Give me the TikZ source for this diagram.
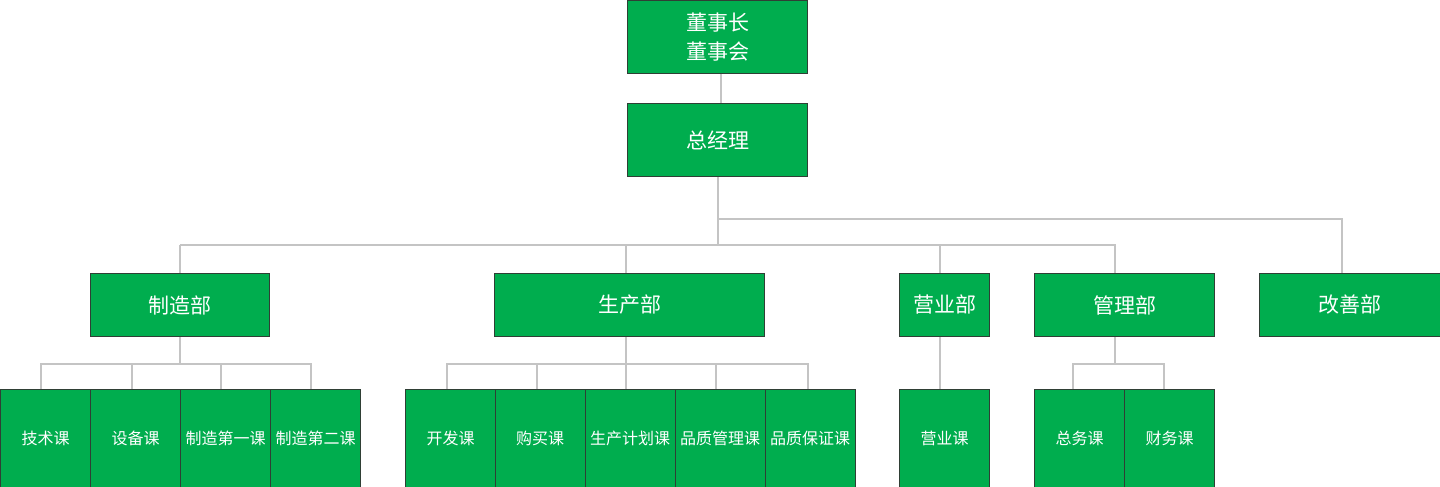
\documentclass[tikz,border=0pt]{standalone}
\usepackage{fontspec}
\newfontfamily\cjk{Noto Sans CJK SC}
\definecolor{boxgreen}{HTML}{00AD4E}
\definecolor{boxedge}{HTML}{2F3F35}
\definecolor{linegray}{HTML}{C4C4C4}
\tikzset{
  orgbox/.style={draw=boxedge, line width=1pt, fill=boxgreen, text=white, inner sep=0pt,
    anchor=north west, align=center, font=\cjk\fontsize{21}{29}\selectfont},
  subbox/.style={orgbox, font=\cjk\fontsize{16}{20}\selectfont},
  conn/.style={draw=linegray, line width=2pt}
}
\begin{document}
\begin{tikzpicture}[x=1pt,y=-1pt]
\useasboundingbox (0,0) rectangle (1440,487);
% top
\node[orgbox, minimum width=180pt, minimum height=73pt] (chair) at (627,0) {董事长\\董事会};
\node[orgbox, minimum width=180pt, minimum height=73pt] (gm) at (627,103) {总经理};
% departments
\node[orgbox, minimum width=179pt, minimum height=63pt] (mfg) at (90,273) {制造部};
\node[orgbox, minimum width=270pt, minimum height=63pt] (prod) at (494,273) {生产部};
\node[orgbox, minimum width=90pt, minimum height=63pt] (sales) at (899,273) {营业部};
\node[orgbox, minimum width=180pt, minimum height=63pt] (admin) at (1034,273) {管理部};
\node[orgbox, minimum width=181pt, minimum height=63pt] (kaizen) at (1259,273) {改善部};
% sections
\node[subbox, minimum width=90pt, minimum height=98pt] (m1) at (0,389) {技术课};
\node[subbox, minimum width=90pt, minimum height=98pt] (m2) at (90,389) {设备课};
\node[subbox, minimum width=90pt, minimum height=98pt] (m3) at (180,389) {制造第一课};
\node[subbox, minimum width=90pt, minimum height=98pt] (m4) at (270,389) {制造第二课};
\node[subbox, minimum width=90pt, minimum height=98pt] (p1) at (405,389) {开发课};
\node[subbox, minimum width=90pt, minimum height=98pt] (p2) at (494.5,389) {购买课};
\node[subbox, minimum width=90pt, minimum height=98pt] (p3) at (584.5,389) {生产计划课};
\node[subbox, minimum width=90pt, minimum height=98pt] (p4) at (674.5,389) {品质管理课};
\node[subbox, minimum width=90pt, minimum height=98pt] (p5) at (764.5,389) {品质保证课};
\node[subbox, minimum width=90pt, minimum height=98pt] (s1) at (899,389) {营业课};
\node[subbox, minimum width=90pt, minimum height=98pt] (a1) at (1034,389) {总务课};
\node[subbox, minimum width=90pt, minimum height=98pt] (a2) at (1124,389) {财务课};
% bus coordinates
\coordinate (busA) at (0,245);
\coordinate (busB) at (0,219);
\coordinate (busC) at (0,364);
% top connectors
\draw[conn] ([xshift=3pt]chair.south) -- ([xshift=3pt]gm.north);
\draw[conn] (gm.south) -- (gm.south |- busA);
\draw[conn] (gm.south |- busB) -- ([xshift=-8pt]kaizen.north |- busB) -- ([xshift=-8pt]kaizen.north);
\draw[conn] (mfg.north |- busA) -- ([xshift=-10pt]admin.north |- busA) -- ([xshift=-10pt]admin.north);
\draw[conn] (mfg.north |- busA) -- (mfg.north);
\draw[conn] ([xshift=-4pt]prod.north |- busA) -- ([xshift=-4pt]prod.north);
\draw[conn] ([xshift=-5pt]sales.north |- busA) -- ([xshift=-5pt]sales.north);
% manufacturing
\draw[conn] (mfg.south) -- (mfg.south |- busC);
\draw[conn] ([xshift=-5pt]m1.north) -- ([xshift=-5pt]m1.north |- busC) -- ([xshift=-5pt]m4.north |- busC) -- ([xshift=-5pt]m4.north);
\draw[conn] ([xshift=-4pt]m2.north) -- ([xshift=-4pt]m2.north |- busC);
\draw[conn] ([xshift=-5pt]m3.north) -- ([xshift=-5pt]m3.north |- busC);
% production
\draw[conn] ([xshift=-4pt]prod.south) -- ([xshift=-4pt]prod.south |- busC);
\draw[conn] ([xshift=-4pt]p1.north) -- ([xshift=-4pt]p1.north |- busC) -- ([xshift=-2pt]p5.north |- busC) -- ([xshift=-2pt]p5.north);
\draw[conn] ([xshift=-3pt]p2.north) -- ([xshift=-3pt]p2.north |- busC);
\draw[conn] ([xshift=-4pt]p3.north) -- ([xshift=-4pt]p3.north |- busC);
\draw[conn] ([xshift=-4pt]p4.north) -- ([xshift=-4pt]p4.north |- busC);
% sales
\draw[conn] ([xshift=-5pt]sales.south) -- ([xshift=-5pt]s1.north);
% admin
\draw[conn] ([xshift=-10pt]admin.south) -- ([xshift=-10pt]admin.south |- busC);
\draw[conn] ([xshift=-7pt]a1.north) -- ([xshift=-7pt]a1.north |- busC) -- ([xshift=-6pt]a2.north |- busC) -- ([xshift=-6pt]a2.north);
\end{tikzpicture}
\end{document}
